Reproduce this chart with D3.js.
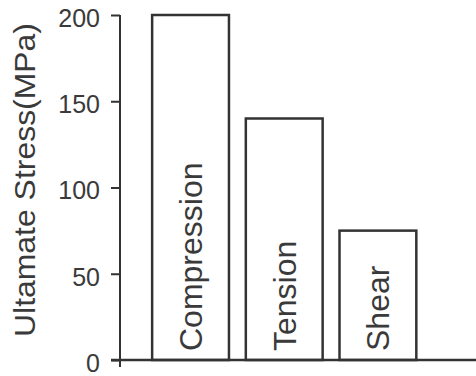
<!DOCTYPE html>
<html><head><meta charset="utf-8">
<script src="https://cdn.jsdelivr.net/npm/d3@7"></script>
<style>
html,body{margin:0;padding:0;background:#fff;}
svg{display:block;font-family:"Liberation Sans",Arial,Helvetica,sans-serif;}
</style></head>
<body>
<script>
const categories = ["Compression", "Tension", "Shear"];
const values = [200, 140, 75];
const yTicks = [0, 50, 100, 150, 200];
const yTitle = "Ultamate Stress(MPa)";

const W = 476, H = 376;
const svg = d3.select("body").append("svg").attr("width", W).attr("height", H);
const ink = "#333";
const textInk = "#3a3a3a";

const x = d3.scaleBand().domain(categories).range([120, 476])
  .paddingInner(0.18).paddingOuter(0.49).align(0.35);
const y = d3.scaleLinear().domain([0, 200]).range([360, 15]);

// bars
svg.append("g").selectAll("rect").data(categories).join("rect")
  .attr("x", d => x(d))
  .attr("y", (d, i) => y(values[i]))
  .attr("width", x.bandwidth())
  .attr("height", (d, i) => y(0) - y(values[i]))
  .attr("fill", "#fff").attr("stroke", ink).attr("stroke-width", 2.5);

// bar labels
svg.append("g").selectAll("text").data(categories).join("text")
  .attr("transform", d => `translate(${x(d) + x.bandwidth() / 2},351) rotate(-90)`)
  .attr("dy", "0.36em")
  .attr("font-size", 32).attr("fill", textInk)
  .text(d => d);

// y axis
const yAxis = svg.append("g").attr("transform", "translate(120,0)")
  .call(d3.axisLeft(y).tickValues(yTicks).tickSize(9).tickSizeOuter(0).tickPadding(11));
yAxis.select(".domain").remove();
yAxis.selectAll(".tick line").attr("stroke", ink).attr("stroke-width", 2);
yAxis.selectAll(".tick text").attr("font-size", 25).attr("fill", textInk)
  .attr("font-family", "Liberation Sans, Arial, sans-serif").attr("dy", "0.45em");
yAxis.append("line").attr("x1", 0).attr("x2", 0).attr("y1", y(200)).attr("y2", 367)
  .attr("stroke", ink).attr("stroke-width", 2);

// x axis line
svg.append("line").attr("x1", 111).attr("x2", 476).attr("y1", y(0)).attr("y2", y(0))
  .attr("stroke", ink).attr("stroke-width", 2.5);

// y title
svg.append("text")
  .attr("transform", "translate(25,180) rotate(-90)")
  .attr("text-anchor", "middle").attr("dy", "0.36em")
  .attr("font-size", 29).attr("fill", textInk)
  .attr("textLength", 314).attr("lengthAdjust", "spacingAndGlyphs")
  .text(yTitle);
</script>
</body></html>
